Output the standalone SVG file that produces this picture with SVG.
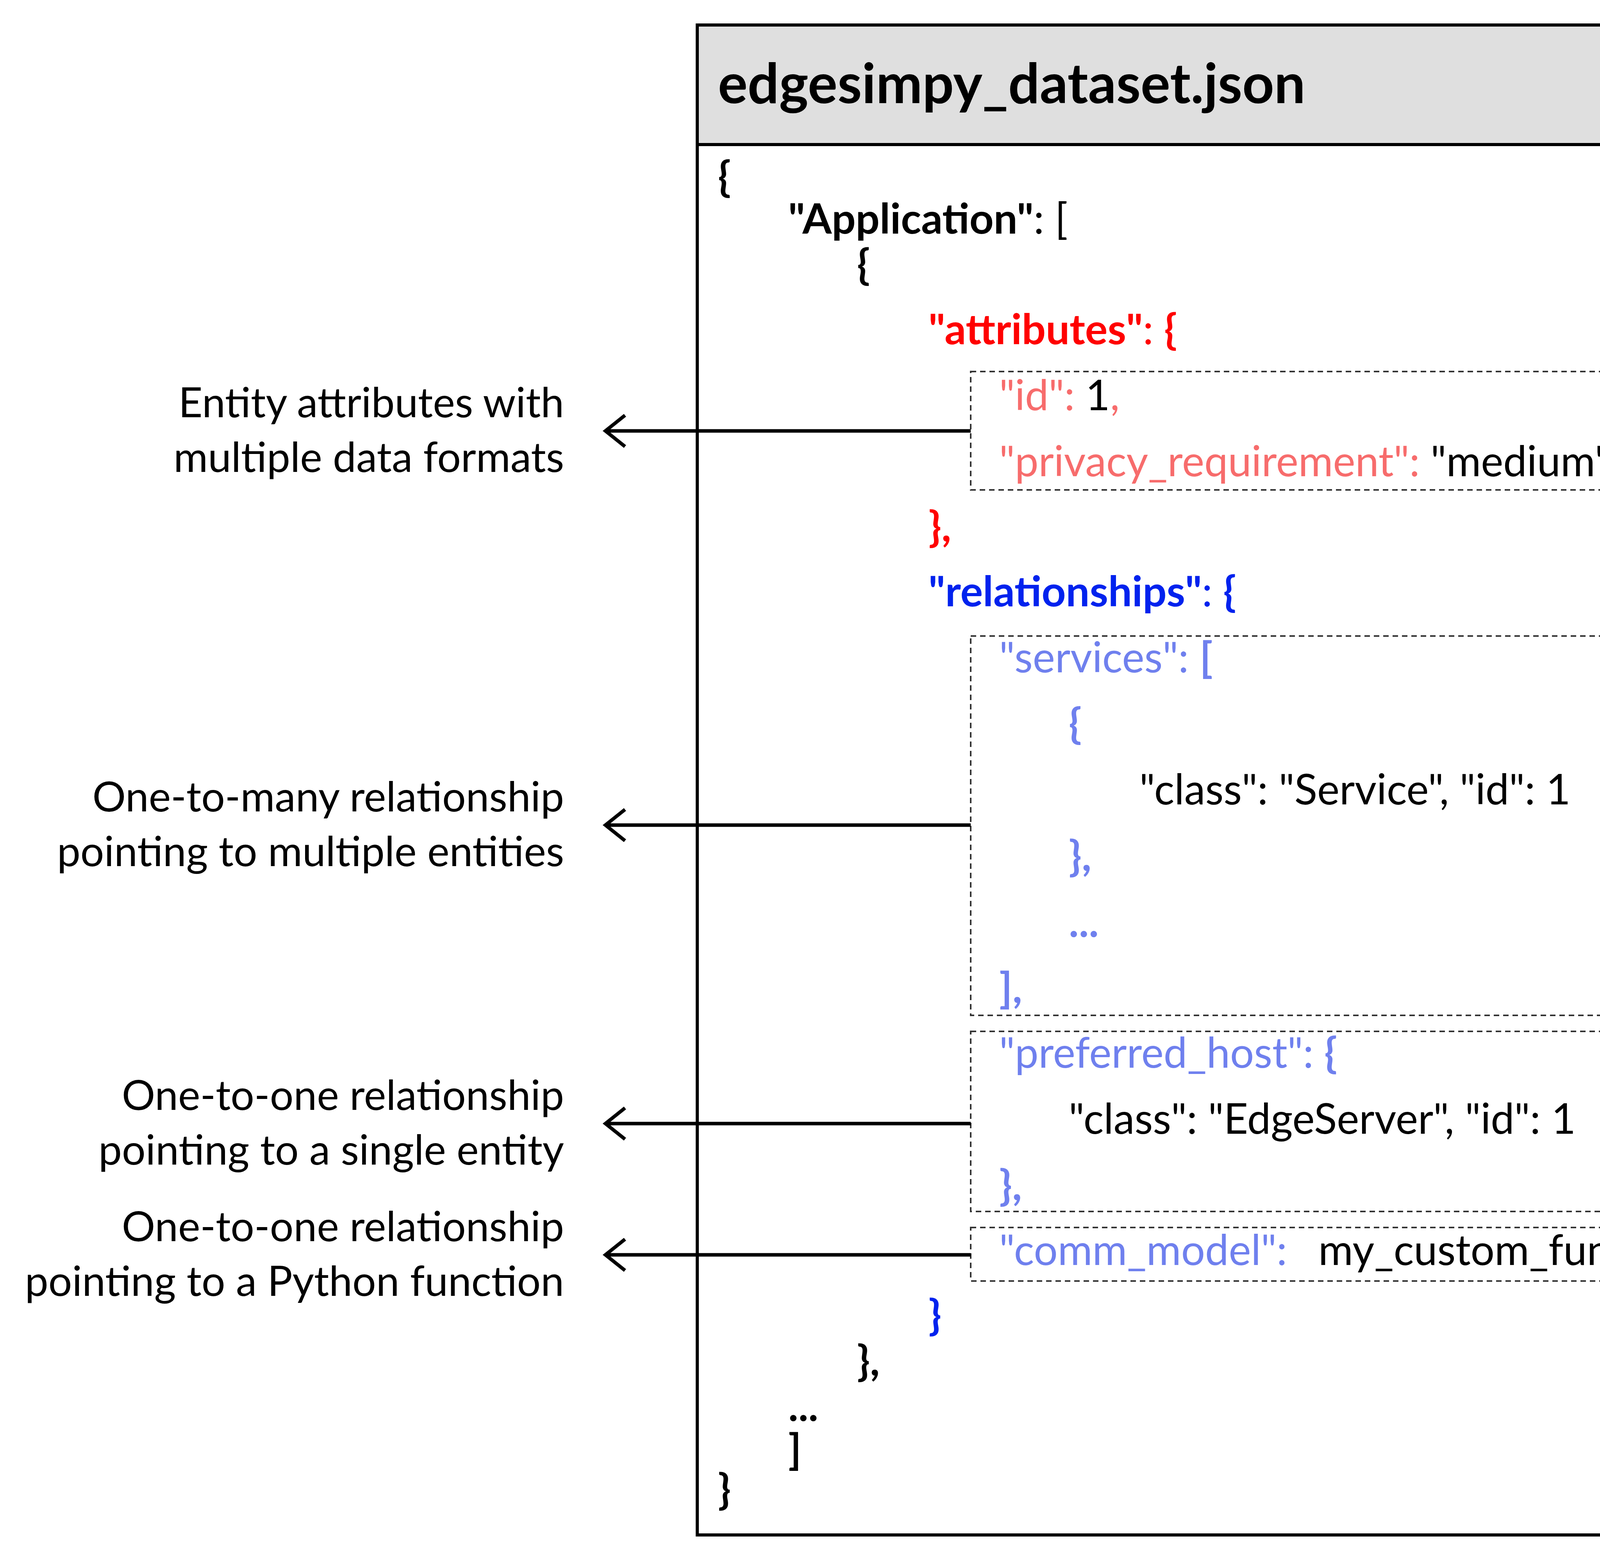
<svg xmlns="http://www.w3.org/2000/svg" width="4560" height="3988" viewBox="0 0 4560 3988">
<style>
text{font-family:Lato,"Open Sans",sans-serif;font-size:108px;fill:#000}
.b{font-weight:bold}
.r{fill:#ff0000}.lr{fill:#f76c6c}.bl{fill:#0022ee}.lb{fill:#6f80ee}
.dash{fill:none;stroke:#333;stroke-width:4;stroke-dasharray:14 10}
.lab{text-anchor:end;font-size:107px}
.conn{stroke:#000;stroke-width:9;fill:none}
</style>
<rect width="4560" height="3988" fill="#fff"/>
<g id="file">
<rect x="1785" y="64" width="2713" height="3865" fill="#fff" stroke="#000" stroke-width="8"/>
<rect x="1785" y="64" width="2713" height="306" fill="#dfdfdf" stroke="#000" stroke-width="8"/>
<text class="b" x="1838" y="264" style="font-size:142px">edgesimpy_dataset.json</text>
<text class="b" x="1838" y="490">{</text>
<text x="2018" y="598"><tspan class="b">"Application"</tspan>: [</text>
<text class="b" x="2194" y="715">{</text>
<text class="b r" x="2377" y="881">"attributes"<tspan style="font-weight:normal">: </tspan>{</text>
<text class="b r" x="2377" y="1386">},</text>
<text class="b bl" x="2377" y="1552">"relationships"<tspan style="font-weight:normal">: </tspan>{</text>
<text class="b bl" x="2377" y="3404">}</text>
<text class="b" x="2194" y="3521">},</text>
<text class="b" x="2018" y="3637">...</text>
<text class="b" x="2018" y="3748">]</text>
<text class="b" x="1838" y="3850">}</text>
</g>
<g id="attrs">
<rect class="dash" x="2485" y="951" width="1955" height="303"/>
<text x="2558" y="1050"><tspan class="lr">"id": </tspan>1<tspan class="lr">,</tspan></text>
<text x="2558" y="1219"><tspan class="lr">"privacy_requirement": </tspan>"medium"</text>
</g>
<g id="services">
<rect class="dash" x="2485" y="1628" width="1955" height="971"/>
<text class="lb" x="2558" y="1721">"services": <tspan class="b">[</tspan></text>
<text class="lb b" x="2736" y="1890">{</text>
<text x="2917" y="2059">"class": "Service", "id": 1</text>
<text class="lb b" x="2736" y="2229">},</text>
<text class="lb b" x="2736" y="2398">...</text>
<text class="lb b" x="2558" y="2567">],</text>
</g>
<g id="preferred_host">
<rect class="dash" x="2485" y="2640" width="1955" height="461"/>
<text class="lb" x="2558" y="2733">"preferred_host": <tspan class="b">{</tspan></text>
<text x="2736" y="2902">"class": "EdgeServer", "id": 1</text>
<text class="lb b" x="2558" y="3072">},</text>
</g>
<g id="comm_model">
<rect class="dash" x="2485" y="3142" width="1955" height="137"/>
<text class="lb" x="2558" y="3238">"comm_model":</text>
<text x="3375" y="3238">my_custom_function</text>
</g>
<g id="labels">
<text class="lab" x="1444" y="1068">Entity attributes with</text>
<text class="lab" x="1444" y="1208">multiple data formats</text>
<text class="lab" x="1444" y="2077">One-to-many relationship</text>
<text class="lab" x="1444" y="2217">pointing to multiple entities</text>
<text class="lab" x="1444" y="2841">One-to-one relationship</text>
<text class="lab" x="1444" y="2981">pointing to a single entity</text>
<text class="lab" x="1444" y="3177">One-to-one relationship</text>
<text class="lab" x="1444" y="3317">pointing to a Python function</text>
</g>
<g id="connectors" class="conn">
<path d="M2485 1103H1550M1600 1063L1550 1103L1600 1143"/>
<path d="M2485 2112H1550M1600 2072L1550 2112L1600 2152"/>
<path d="M2485 2876H1550M1600 2836L1550 2876L1600 2916"/>
<path d="M2485 3212H1550M1600 3172L1550 3212L1600 3252"/>
</g>
</svg>
